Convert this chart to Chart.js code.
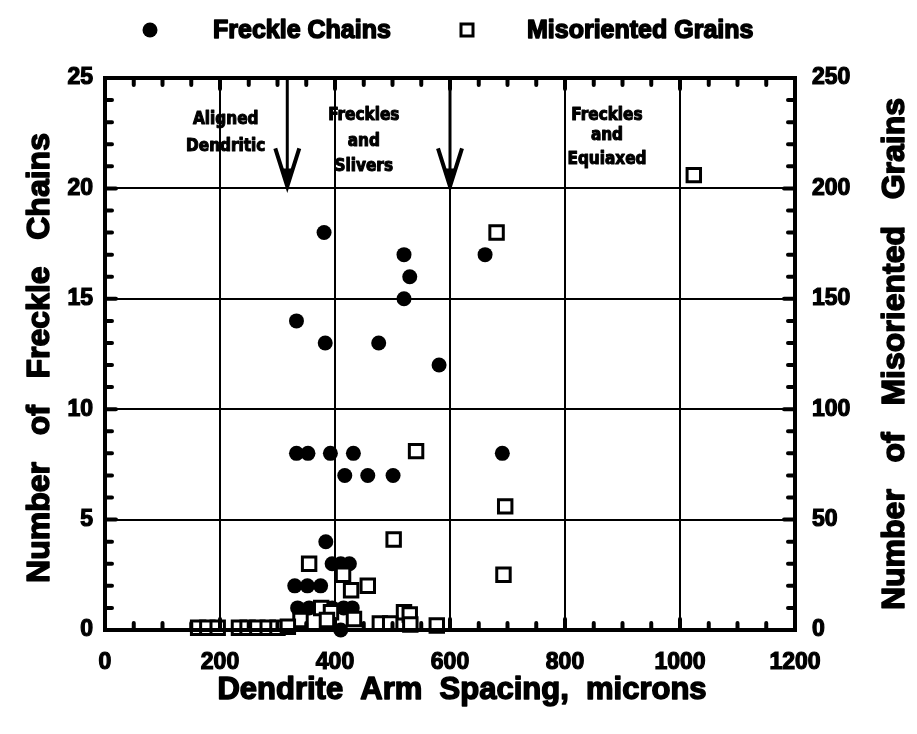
<!DOCTYPE html>
<html>
<head>
<meta charset="utf-8">
<script src="https://cdn.jsdelivr.net/npm/chart.js@4.4.1/dist/chart.umd.min.js"></script>
<style>
  html, body { margin: 0; padding: 0; background: #fff; }
  #wrap { width: 917px; height: 734px; }
</style>
</head>
<body>
<div id="wrap"><canvas id="c" width="917" height="734"></canvas></div>
<script>
// Freckle chains (left axis): dendrite arm spacing (microns) and count
const chainSpacing = [381, 520, 661, 530, 520, 333, 383, 476, 581,
                      333, 353, 392, 432, 691, 417, 457, 501,
                      384, 395, 410, 425, 330, 352, 375,
                      335, 355, 375, 395, 415, 430, 410];
const chainCount   = [18, 17, 17, 16, 15, 14, 13, 13, 12,
                      8, 8, 8, 8, 8, 7, 7, 7,
                      4, 3, 3, 3, 2, 2, 2,
                      1, 1, 1, 1, 1, 1, 0];

// Misoriented grains (right axis): dendrite arm spacing (microns) and count
const grainSpacing = [1024, 681, 541, 696, 502, 355, 693, 414, 457, 428,
                      376, 393, 520, 530, 433, 340, 386, 478, 496, 531, 577,
                      162, 178, 196, 233, 248, 265, 283, 300, 318];
const grainCount   = [206, 180, 81, 56, 41, 30, 25, 25, 20, 18,
                      10, 8, 8, 7, 5, 4.5, 4.5, 3, 3, 2.5, 2,
                      1, 1, 1, 1, 1, 1, 1, 1, 1.5];

// Regime boundaries marked by arrows (spacing, microns) and where they end
const boundarySpacing = [317, 600];
const boundaryTip = 20;

// Regime names, placed in data coordinates (spacing, chains)
const regimeText = [
  { lines: ['Aligned', 'Dendritic'], x: 210, y: [23.1, 21.9] },
  { lines: ['Freckles', 'and', 'Slivers'], x: 450, y: [23.3, 22.1, 21.0] },
  { lines: ['Freckles', 'and', 'Equiaxed'], x: 873, y: [23.3, 22.4, 21.3] }
];

// Axis titles
const xTitle = 'Dendrite  Arm  Spacing,  microns';
const leftTitle = 'Number   of   Freckle   Chains';
const rightTitle = 'Number   of   Misoriented   Grains';

const FONT = '"Liberation Sans", Arial, Helvetica, sans-serif';
const NARROW = '"Liberation Sans Narrow", "DejaVu Sans Condensed", "Liberation Sans", sans-serif';
Chart.defaults.font.family = FONT;
Chart.defaults.color = '#000';

function heavyText(ctx, text, x, y, stroke) {
  ctx.lineWidth = stroke;
  ctx.strokeStyle = '#000';
  ctx.lineJoin = 'round';
  ctx.strokeText(text, x, y);
  ctx.fillText(text, x, y);
}

const decorations = {
  id: 'decorations',
  afterDatasetsDraw(chart) {
    const { ctx, chartArea: a, scales: { x, y } } = chart;
    ctx.save();
    // plot frame
    ctx.strokeStyle = '#000';
    ctx.lineWidth = 4;
    ctx.strokeRect(a.left, a.top, a.right - a.left, a.bottom - a.top);

    // inward tick marks on all four sides
    ctx.lineCap = 'round';
    for (let v = 0; v <= 1200; v += 50) {
      const px = x.getPixelForValue(v);
      const len = v % 200 === 0 ? 11 : 7;
      ctx.beginPath();
      ctx.moveTo(px, a.bottom); ctx.lineTo(px, a.bottom - len);
      ctx.moveTo(px, a.top); ctx.lineTo(px, a.top + len);
      ctx.stroke();
    }
    for (let v = 0; v <= 25; v += 1) {
      const py = y.getPixelForValue(v);
      const len = v % 5 === 0 ? 11 : 7;
      ctx.beginPath();
      ctx.moveTo(a.left, py); ctx.lineTo(a.left + len, py);
      ctx.moveTo(a.right, py); ctx.lineTo(a.right - len, py);
      ctx.stroke();
    }

    // boundary arrows
    ctx.fillStyle = '#000';
    boundarySpacing.forEach(s => {
      const px = x.getPixelForValue(s);
      const tip = y.getPixelForValue(boundaryTip);
      ctx.lineCap = 'butt';
      ctx.lineWidth = 3;
      ctx.beginPath();
      ctx.moveTo(px, a.top); ctx.lineTo(px, tip - 6);
      ctx.stroke();
      ctx.lineWidth = 4;
      ctx.beginPath();
      ctx.moveTo(px - 12, tip - 40); ctx.lineTo(px, tip - 2); ctx.lineTo(px + 12, tip - 40);
      ctx.stroke();
      ctx.beginPath();
      ctx.moveTo(px, tip); ctx.lineTo(px - 6, tip - 20); ctx.lineTo(px + 6, tip - 20);
      ctx.closePath(); ctx.fill();
    });

    // regime names
    ctx.font = 'bold 17px ' + NARROW;
    ctx.textAlign = 'center';
    ctx.textBaseline = 'middle';
    regimeText.forEach(r => {
      r.lines.forEach((t, i) => {
        heavyText(ctx, t, x.getPixelForValue(r.x), y.getPixelForValue(r.y[i]), 1);
      });
    });
    ctx.restore();
  },
  afterDraw(chart) {
    const { ctx, chartArea: a } = chart;
    ctx.save();
    ctx.fillStyle = '#000';
    // series key
    ctx.beginPath();
    ctx.arc(150, 30, 7.5, 0, Math.PI * 2);
    ctx.fill();
    ctx.lineWidth = 3;
    ctx.strokeStyle = '#000';
    ctx.strokeRect(461, 24, 12, 12);
    ctx.font = 'bold 25px ' + FONT;
    ctx.textAlign = 'left';
    ctx.textBaseline = 'middle';
    heavyText(ctx, 'Freckle Chains', 213, 31, 1.5);
    heavyText(ctx, 'Misoriented Grains', 527, 31, 1.5);

    // axis titles
    ctx.textAlign = 'center';
    ctx.font = 'bold 31px ' + FONT;
    heavyText(ctx, xTitle, (a.left + a.right) / 2 + 12, 690, 1.5);

    const midY = (a.top + a.bottom) / 2;
    ctx.font = 'bold 32px ' + FONT;
    ctx.save();
    ctx.translate(40, midY + 4);
    ctx.rotate(-Math.PI / 2);
    heavyText(ctx, leftTitle, 0, 0, 1.5);
    ctx.restore();

    ctx.save();
    ctx.translate(895, midY);
    ctx.rotate(-Math.PI / 2);
    heavyText(ctx, rightTitle, 0, 0, 1.5);
    ctx.restore();
    ctx.restore();
  }
};

const tickFont = { size: 23, weight: 'bold' };
const plainNumber = v => String(v);

new Chart(document.getElementById('c'), {
  type: 'scatter',
  data: {
    datasets: [
      {
        label: 'Misoriented Grains',
        data: grainSpacing.map((s, i) => ({ x: s, y: grainCount[i] })),
        yAxisID: 'y1',
        pointStyle: 'rect',
        pointRadius: 9.5,
        pointBackgroundColor: '#fff',
        pointBorderColor: '#000',
        pointBorderWidth: 3,
        clip: false,
        order: 0
      },
      {
        label: 'Freckle Chains',
        data: chainSpacing.map((s, i) => ({ x: s, y: chainCount[i] })),
        yAxisID: 'y',
        pointStyle: 'circle',
        pointRadius: 7.5,
        pointBackgroundColor: '#000',
        pointBorderWidth: 0,
        clip: false,
        order: 1
      }
    ]
  },
  options: {
    responsive: false,
    animation: false,
    events: [],
    layout: { padding: { top: 78, left: 0, right: 0, bottom: 0 } },
    plugins: { legend: { display: false }, tooltip: { enabled: false } },
    scales: {
      x: {
        type: 'linear', position: 'bottom', min: 0, max: 1200,
        ticks: { stepSize: 200, padding: 19, font: tickFont, color: '#000',
                 textStrokeColor: '#000', textStrokeWidth: 1.2, maxRotation: 0,
                 callback: plainNumber },
        grid: { color: '#000', lineWidth: 2, drawTicks: false },
        border: { display: true, color: '#000', width: 4 },
        afterFit(s) { s.height = 104; }
      },
      y: {
        type: 'linear', position: 'left', min: 0, max: 25,
        ticks: { stepSize: 5, padding: 12, font: tickFont, color: '#000',
                 textStrokeColor: '#000', textStrokeWidth: 1.2, callback: plainNumber },
        grid: { color: '#000', lineWidth: 2, drawTicks: false },
        border: { display: true, color: '#000', width: 4 },
        afterFit(s) { s.width = 105; }
      },
      y1: {
        type: 'linear', position: 'right', min: 0, max: 250,
        ticks: { stepSize: 50, padding: 17, font: tickFont, color: '#000',
                 textStrokeColor: '#000', textStrokeWidth: 1.2, callback: plainNumber },
        grid: { drawOnChartArea: false, drawTicks: false },
        border: { display: true, color: '#000', width: 4 },
        afterFit(s) { s.width = 122; }
      }
    }
  },
  plugins: [decorations]
});
</script>
</body>
</html>
